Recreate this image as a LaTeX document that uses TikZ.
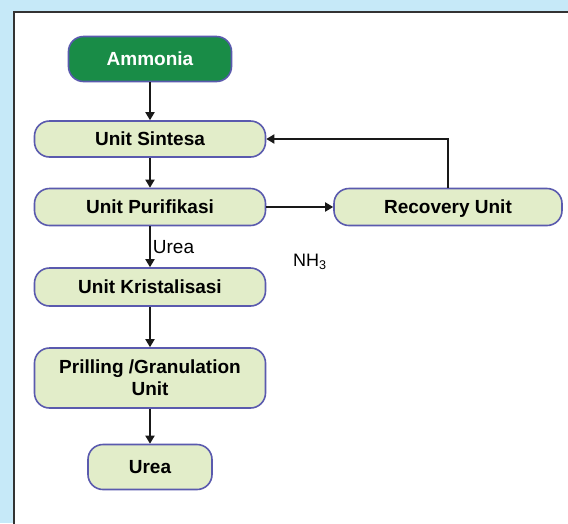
\documentclass[tikz,border=0pt]{standalone}
\usepackage{fontspec}
\setmainfont{Liberation Sans}
\usetikzlibrary{arrows.meta}
\definecolor{bgblue}{HTML}{C6E9F8}
\definecolor{boxfill}{HTML}{E2EDC9}
\definecolor{boxline}{HTML}{5A5AAE}
\definecolor{ammgreen}{HTML}{198C47}
\tikzset{
	unitbox/.style={draw=boxline, line width=1.6pt, fill=boxfill, rounded corners=15pt, align=center, font=\fontsize{19}{22}\selectfont\bfseries, inner sep=0pt},
	oneline/.style={unitbox, text height=13.6pt, text depth=0pt},
	flow/.style={line width=1.8pt, draw=black!90, -{Triangle[length=8pt,width=9pt]}}
}

\begin{document}
\begin{tikzpicture}[x=1pt, y=-1pt]
		%%%%% START %%%%%
		
		\useasboundingbox (0, 0) rectangle (568, 523);
		\fill[bgblue] (0, 0) rectangle (568, 523);
		\draw[fill=white, line width=2.5pt, draw=black!80] (14, 12) rectangle (575, 530);
		
		\node[oneline, fill=ammgreen, text=white, minimum width=163pt, minimum height=45pt] (amm) at (150, 59) {Ammonia};
		\node[oneline, minimum width=231pt, minimum height=36pt] (sin) at (150, 139) {Unit Sintesa};
		\node[oneline, minimum width=231pt, minimum height=37pt] (pur) at (150, 207) {Unit Purifikasi};
		\node[oneline, minimum width=228pt, minimum height=37pt] (rec) at (448, 207) {Recovery Unit};
		\node[oneline, minimum width=231pt, minimum height=38pt] (kri) at (150, 287) {Unit Kristalisasi};
		\node[unitbox, minimum width=231pt, minimum height=60pt] (pri) at (150, 378) {Prilling /Granulation\\Unit};
		\node[oneline, minimum width=124pt, minimum height=45pt] (ure) at (150, 467) {Urea};
		
		\draw[flow] (amm) -- (sin);
		\draw[flow] (sin) -- (pur);
		\draw[flow] (pur) -- node[right, inner sep=2pt, font=\fontsize{19}{21}\selectfont] (urealbl) {Urea} (kri);
		\draw[flow] (kri) -- (pri);
		\draw[flow] (pri) -- (ure);
		
		\draw[flow] (pur) -- (rec);
		\draw[flow] (rec.north) |- (sin.east);
		
		\node[font=\fontsize{18}{20}\selectfont] (nh) at (310, 262) {NH\textsubscript{3}};
		
		%%%%% END %%%%%
	\end{tikzpicture}
\end{document}
